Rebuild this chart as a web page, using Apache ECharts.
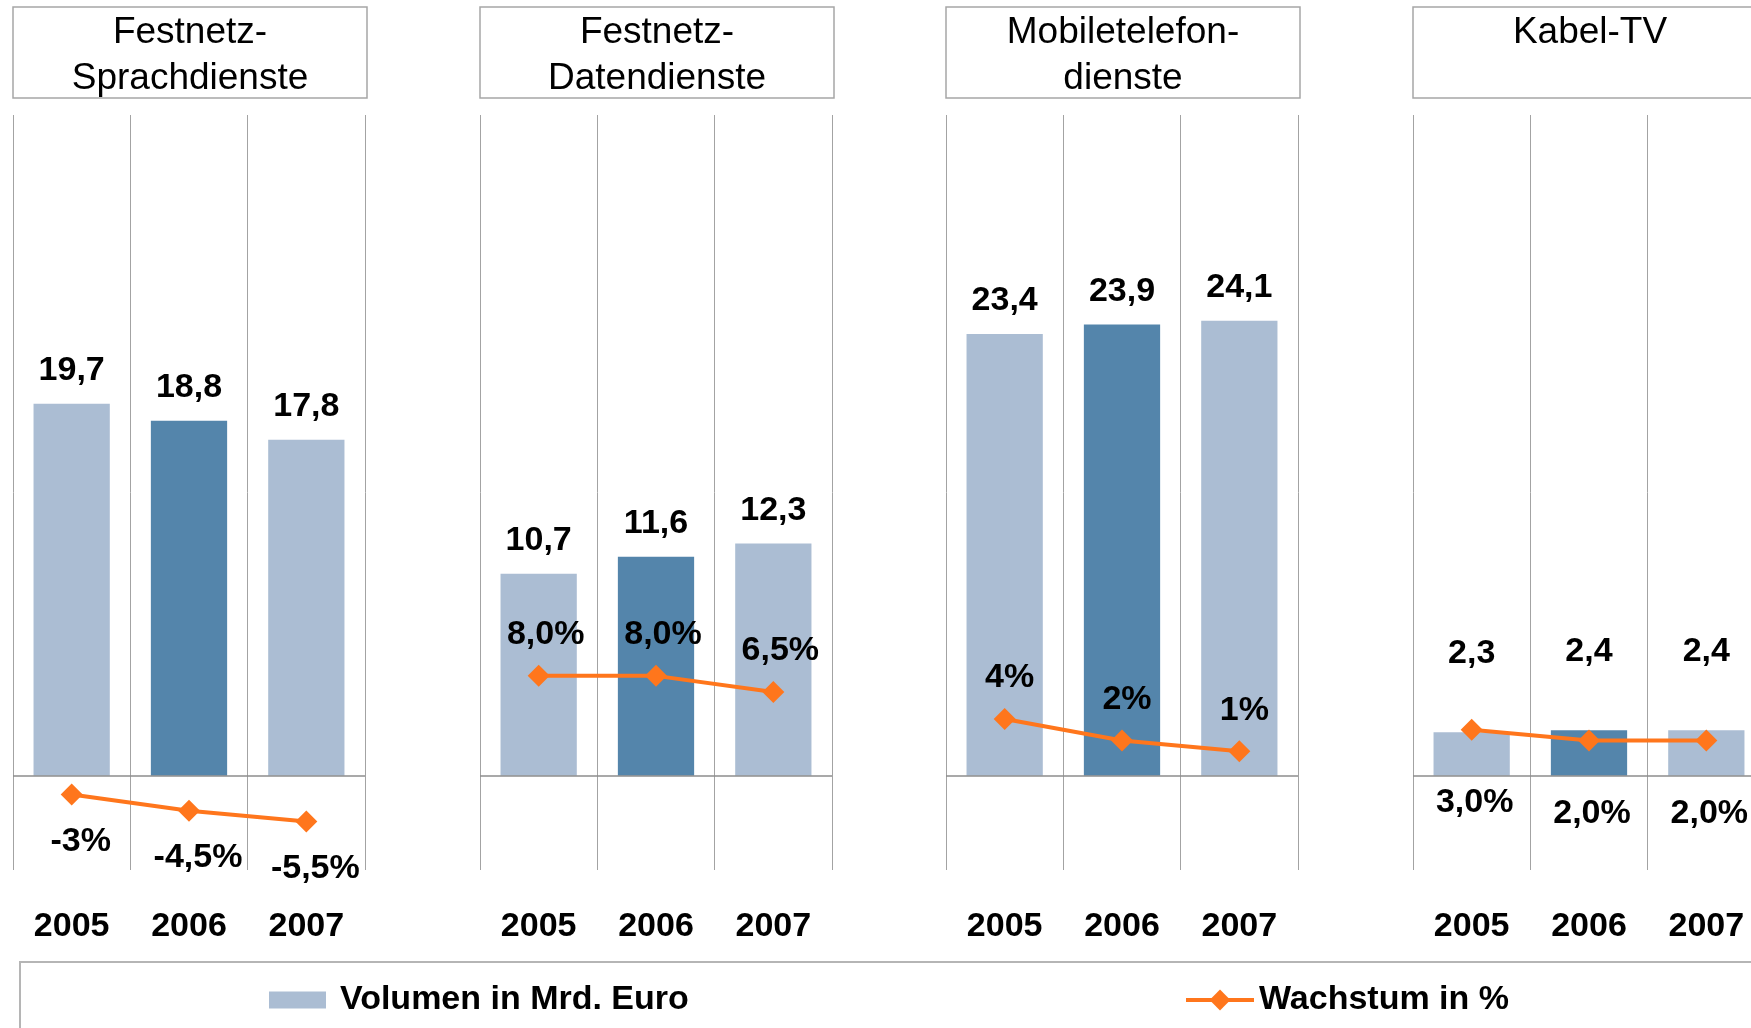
<!DOCTYPE html>
<html>
<head>
<meta charset="utf-8">
<script src="https://cdn.jsdelivr.net/npm/echarts@6/dist/echarts.min.js"></script>
<style>
html,body{margin:0;padding:0;background:#fff;overflow:hidden;width:1751px;height:1028px;}
#chart{width:1790px;height:1028px;}
</style>
</head>
<body>
<div id="chart"></div>
<script>
const categories = ['2005', '2006', '2007'];
const panelTitles = ['Festnetz-\nSprachdienste', 'Festnetz-\nDatendienste', 'Mobiletelefon-\ndienste', 'Kabel-TV'];
const volumeFestnetzSprache = [19.7, 18.8, 17.8];
const volumeFestnetzDaten = [10.7, 11.6, 12.3];
const volumeMobil = [23.4, 23.9, 24.1];
const volumeKabel = [2.3, 2.4, 2.4];
const growthFestnetzSprache = [-3, -4.5, -5.5];
const growthFestnetzDaten = [8.0, 8.0, 6.5];
const growthMobil = [4, 2, 1];
const growthKabel = [3.0, 2.0, 2.0];
const growthDecimals = [null, 1, null, 1];
const legendNames = ['Volumen in Mrd. Euro', 'Wachstum in %'];

const volumes = [volumeFestnetzSprache, volumeFestnetzDaten, volumeMobil, volumeKabel];
const growths = [growthFestnetzSprache, growthFestnetzDaten, growthMobil, growthKabel];

const FONT = '"Liberation Sans", Arial, sans-serif';
const LIGHT = '#abbdd3';
const DARK = '#5485ab';
const ORANGE = '#ff761c';
const GRIDC = '#a3a3a3';

const panelLeft = [13, 480, 946, 1413];
const panelWidth = 352;
const gridTop = 115, gridBottomY = 870;

// per-panel label placement styles
const barLabelDist = [16, 16, 16, 62];
const lineLabel = [
  {position: 'bottom', distance: 19, offset: [9, 0]},
  {position: 'top', distance: 13, offset: [7, 0]},
  {position: 'top', distance: 13, offset: [5, 0]},
  {position: 'bottom', distance: 45, offset: [3, 0]}
];

function fmtNum(v) { return v.toFixed(1).replace('.', ','); }
function fmtPct(v, d) {
  const s = (d == null) ? String(v) : v.toFixed(d);
  return s.replace('.', ',') + '%';
}

const grids = [], xAxes = [], yAxes = [], series = [], graphics = [];
for (let i = 0; i < 4; i++) {
  grids.push({left: panelLeft[i], top: gridTop, width: panelWidth, height: gridBottomY - gridTop, containLabel: false});
  xAxes.push({
    type: 'category', gridIndex: i, data: categories, position: 'bottom',
    axisLine: {show: false, onZero: false}, axisTick: {show: false},
    axisLabel: {margin: 40, color: '#000', fontFamily: FONT, fontWeight: 'bold', fontSize: 34},
    splitLine: {show: true, lineStyle: {color: GRIDC, width: 1}}
  });
  yAxes.push({type: 'value', gridIndex: i, min: -5, max: 35, show: false, splitLine: {show: false}});
  yAxes.push({type: 'value', gridIndex: i, min: -10, max: 60, show: false, splitLine: {show: false}});
  series.push({
    type: 'bar', name: legendNames[0], xAxisIndex: i, yAxisIndex: 2 * i,
    barWidth: '65%', itemStyle: {color: LIGHT},
    data: volumes[i].map((v, k) => k === 1 ? {value: v, itemStyle: {color: DARK}} : v),
    label: {show: true, position: 'top', distance: barLabelDist[i], color: '#000',
      fontFamily: FONT, fontWeight: 'bold', fontSize: 34, formatter: p => fmtNum(p.value)},
    markLine: {silent: true, symbol: 'none', label: {show: false},
      lineStyle: {color: '#8c8c8c', width: 1.5, type: 'solid'}, data: [{yAxis: 0}]},
    z: 2
  });
  const ll = lineLabel[i];
  series.push({
    type: 'line', name: legendNames[1], xAxisIndex: i, yAxisIndex: 2 * i + 1,
    data: growths[i], symbol: 'diamond', symbolSize: 22,
    lineStyle: {color: ORANGE, width: 4}, itemStyle: {color: ORANGE},
    label: {show: true, position: ll.position, distance: ll.distance, offset: ll.offset, color: '#000',
      fontFamily: FONT, fontWeight: 'bold', fontSize: 34,
      formatter: (d => p => fmtPct(p.value, d))(growthDecimals[i])},
    z: 5
  });
  graphics.push({type: 'rect', shape: {x: panelLeft[i], y: 7, width: 354, height: 91},
    style: {fill: '#fff', stroke: '#a6a6a6', lineWidth: 1.5}});
  graphics.push({type: 'text', x: panelLeft[i] + 177, y: 10,
    style: {text: panelTitles[i], fill: '#000', font: '37px ' + FONT, textAlign: 'center', textVerticalAlign: 'top', lineHeight: 46}});
}
graphics.push({type: 'rect', shape: {x: 20, y: 962, width: 1800, height: 200},
  style: {fill: 'none', stroke: '#b5b5b5', lineWidth: 2}});

const chart = echarts.init(document.getElementById('chart'));
chart.setOption({
  animation: false,
  backgroundColor: '#fff',
  grid: grids, xAxis: xAxes, yAxis: yAxes, series: series,
  graphic: graphics,
  legend: [
    {data: [{name: legendNames[0], icon: 'rect'}], left: 264, top: 978, itemWidth: 57, itemHeight: 17,
      textStyle: {color: '#000', fontFamily: FONT, fontWeight: 'bold', fontSize: 34, lineHeight: 34, padding: [0, 0, 0, 9]}},
    {data: [legendNames[1]], left: 1179, top: 978, itemWidth: 68, itemHeight: 26,
      lineStyle: {width: 4, color: ORANGE}, itemStyle: {color: ORANGE},
      textStyle: {color: '#000', fontFamily: FONT, fontWeight: 'bold', fontSize: 34, lineHeight: 34, padding: [0, 0, 0, 0]}}
  ]
});
</script>
</body>
</html>
